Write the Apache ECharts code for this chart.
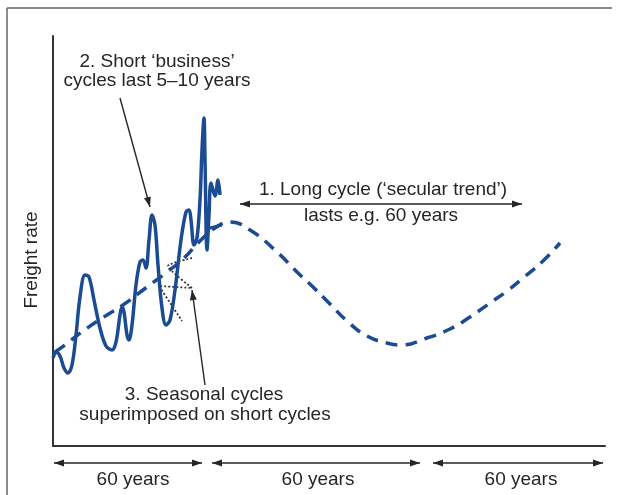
<!DOCTYPE html>
<html>
<head>
<meta charset="utf-8">
<script src="https://cdn.jsdelivr.net/npm/echarts@6/dist/echarts.min.js"></script>
<style>
  html, body { margin: 0; padding: 0; background: #fff; }
  #chart { width: 620px; height: 495px; }
</style>
</head>
<body>
<div id="chart"></div>
<script>
// time runs along x, freight rate up y (arbitrary units)
var longCycle = [
  [2, 94], [12, 101], [30, 115], [54, 131], [70, 141], [94, 159], [114, 174],
  [130, 187], [147, 205], [162, 218], [177, 224], [197, 216], [224, 194],
  [244, 174], [260, 159], [277, 142], [294, 125], [314, 110], [334, 103],
  [347, 101], [374, 108], [397, 117], [417, 129], [437, 143], [454, 155],
  [470, 168], [490, 185], [507, 203]
];
var shortCycles = [
  [0, 88], [3, 94], [7, 90], [11, 78], [15, 73], [19, 81], [23, 111], [27, 149],
  [32, 171], [36, 169], [41, 146], [47, 118], [53, 100], [59, 96], [63, 104],
  [67, 131], [69, 139], [71, 134], [74, 111], [76, 106], [79, 121], [83, 161],
  [87, 184], [90, 186], [93, 178], [96, 206], [99, 231], [102, 221], [105, 181],
  [109, 138], [113, 121], [117, 126], [122, 156], [128, 206], [133, 234],
  [136, 236], [138, 226], [141, 201], [144, 208], [147, 246], [149, 296],
  [151, 328], [152, 286], [154, 196], [156, 231], [158, 263], [162, 250],
  [165, 266], [167, 251]
];
var trendJoin = [[153, 217], [169, 221]];
var seasonalCycles = [[139, 188], [115, 180], [139, 158], [106, 160], [129, 125]];

var labelShort = ["2. Short \u2018business\u2019", "cycles last 5\u201310 years"];
var labelLong = ["1. Long cycle (\u2018secular trend\u2019)", "lasts e.g. 60 years"];
var labelSeasonal = ["3. Seasonal cycles", "superimposed on short cycles"];
var periodLabels = ["60 years", "60 years", "60 years"];
var yName = "Freight rate";

var FONT = '"Liberation Sans", Arial, Helvetica, sans-serif';
var INK = '#262626';
var BLUE = '#1b4b93';

function head(x1, y1, x2, y2) {
  var a = Math.atan2(y2 - y1, x2 - x1), L = 10, W = 3.5;
  var bx = x2 - L * Math.cos(a), by = y2 - L * Math.sin(a);
  return {
    type: 'polygon',
    shape: { points: [[x2, y2], [bx - W * Math.sin(a), by + W * Math.cos(a)], [bx + W * Math.sin(a), by - W * Math.cos(a)]] },
    style: { fill: INK }
  };
}
function arrow(x1, y1, x2, y2, both) {
  var out = [{ type: 'line', shape: { x1: x1, y1: y1, x2: x2, y2: y2 }, style: { stroke: INK, lineWidth: 1.4 } }];
  out.push(head(x1, y1, x2, y2));
  if (both) out.push(head(x2, y2, x1, y1));
  return out;
}
function text(str, x, y, extra) {
  var t = { type: 'text', x: x, y: y, style: { text: str, font: '19px ' + FONT, fill: INK, align: 'center', verticalAlign: 'middle' } };
  for (var k in extra) t[k] = extra[k];
  return t;
}

var spans = [[54, 202], [212, 420], [433, 603]];
var spanLabelX = [133, 318, 521];
var graphics = [
  { type: 'line', shape: { x1: 7, y1: 8, x2: 612, y2: 8 }, style: { stroke: '#666', lineWidth: 1.5 } },
  { type: 'line', shape: { x1: 7, y1: 8, x2: 7, y2: 495 }, style: { stroke: '#666', lineWidth: 1.5 } },
  text(labelShort[0], 157, 62),
  text(labelShort[1], 157, 81),
  text(labelLong[0], 383, 190),
  text(labelLong[1], 381, 216),
  text(labelSeasonal[0], 204, 395),
  text(labelSeasonal[1], 205, 415),
  text(yName, 32, 260, { rotation: Math.PI / 2 })
];
graphics = graphics.concat(arrow(120, 98, 150, 207));
graphics = graphics.concat(arrow(205, 385, 192, 290));
graphics = graphics.concat(arrow(240, 204, 522, 204, true));
spans.forEach(function (s, i) {
  graphics = graphics.concat(arrow(s[0], 463, s[1], 463, true));
  graphics.push(text(periodLabels[i], spanLabelX[i], 480));
});

var chart = echarts.init(document.getElementById('chart'));
chart.setOption({
  animation: false,
  grid: { left: 53, top: 36, right: 15, bottom: 49 },
  xAxis: {
    type: 'value', min: 0, max: 552,
    axisLine: { show: true, lineStyle: { color: '#333', width: 2 } },
    axisTick: { show: false }, axisLabel: { show: false }, splitLine: { show: false }
  },
  yAxis: {
    type: 'value', min: 0, max: 410,
    axisLine: { show: true, lineStyle: { color: '#333', width: 2 } },
    axisTick: { show: false }, axisLabel: { show: false }, splitLine: { show: false }
  },
  series: [
    {
      type: 'line', data: longCycle, smooth: 0.5, symbol: 'none',
      lineStyle: { color: BLUE, width: 3.5, type: [12, 8], cap: 'butt' }
    },
    {
      type: 'line', data: trendJoin, symbol: 'none',
      lineStyle: { color: BLUE, width: 3 }
    },
    {
      type: 'line', data: seasonalCycles, smooth: 0.2, symbol: 'none',
      lineStyle: { color: '#333', width: 1.8, type: [2, 2] }
    },
    {
      type: 'line', data: shortCycles, smooth: 0.35, symbol: 'none',
      lineStyle: { color: BLUE, width: 3.5 }
    }
  ],
  graphic: graphics
});
</script>
</body>
</html>
